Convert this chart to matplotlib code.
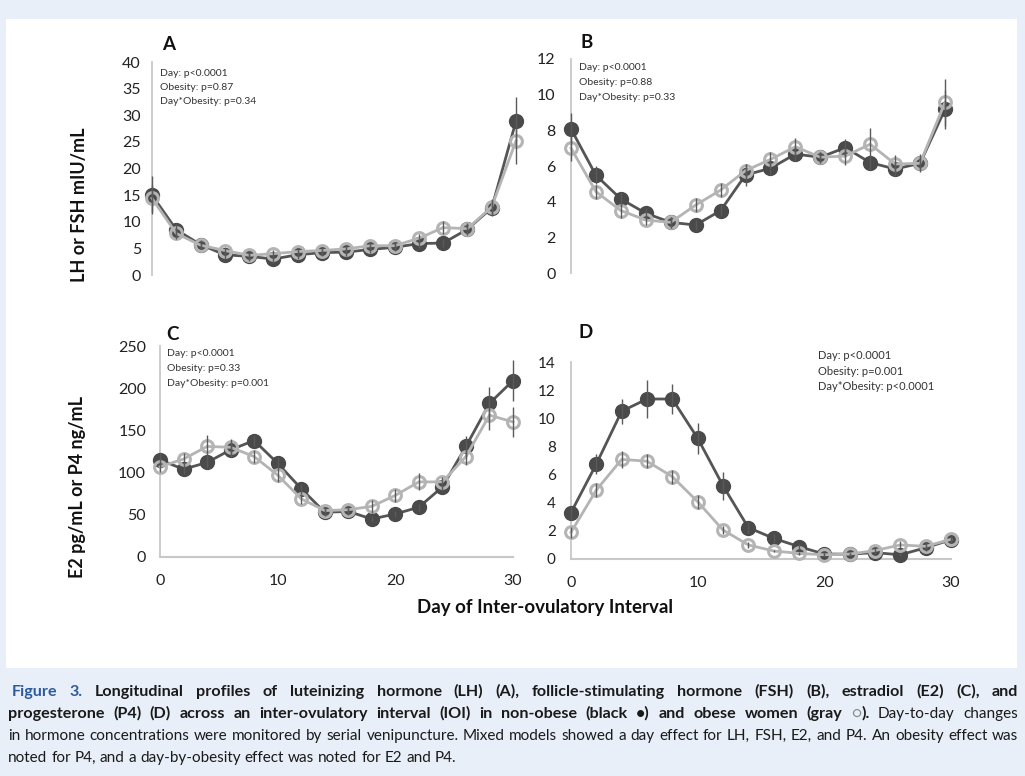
import matplotlib
matplotlib.use("Agg")
import matplotlib.pyplot as plt
from matplotlib.patches import Rectangle

W, H = 1025, 776
FONT = ["Lato", "DejaVu Sans"]
plt.rcParams["font.family"] = FONT

# ---------------------------------------------------------------------------
# Data
# ---------------------------------------------------------------------------
days = list(range(0, 31, 2))

lh_lean = [15.0, 8.5, 5.7, 3.8, 3.5, 3.0, 3.8, 4.2, 4.3, 4.8, 5.2, 5.9, 6.0, 8.6, 12.6, 28.9]
lh_lean_err = [3.5, 1.2, 0.8, 0.8, 0.8, 0.8, 0.8, 0.7, 0.7, 0.7, 0.7, 0.8, 0.8, 1.0, 1.5, 4.6]
lh_obese = [14.4, 7.8, 5.6, 4.6, 3.7, 4.0, 4.4, 4.6, 4.9, 5.5, 5.5, 6.9, 8.9, 8.7, 12.8, 25.2]
lh_obese_err = [2.5, 1.0, 0.7, 0.7, 0.7, 0.7, 0.7, 0.7, 0.7, 0.7, 0.7, 0.8, 1.2, 1.0, 1.5, 4.4]

fsh_lean = [8.08, 5.48, 4.15, 3.35, 2.84, 2.69, 3.5, 5.5, 5.87, 6.67, 6.49, 7.03, 6.19, 5.83, 6.15, 9.18]
fsh_lean_err = [0.9, 0.5, 0.4, 0.3, 0.3, 0.3, 0.3, 0.6, 0.4, 0.4, 0.3, 0.5, 0.4, 0.4, 0.4, 1.1]
fsh_obese = [7.0, 4.56, 3.5, 2.97, 2.84, 3.81, 4.65, 5.74, 6.37, 7.08, 6.49, 6.56, 7.22, 6.11, 6.15, 9.57]
fsh_obese_err = [0.7, 0.4, 0.4, 0.3, 0.3, 0.4, 0.4, 0.4, 0.4, 0.5, 0.3, 0.5, 0.9, 0.5, 0.5, 1.3]

e2_lean = [115, 104, 112, 127, 138, 111, 81, 53, 54, 45, 51, 59, 83, 131, 182, 209]
e2_lean_err = [8, 6, 7, 8, 6, 7, 6, 4, 4, 4, 4, 4, 5, 12, 20, 24]
e2_obese = [107, 116, 131, 130, 119, 97, 69, 55, 56, 60, 73, 89, 89, 119, 168, 160]
e2_obese_err = [6, 7, 14, 10, 8, 8, 6, 4, 4, 8, 8, 10, 6, 10, 18, 18]

p4_lean = [3.3, 6.75, 10.5, 11.37, 11.37, 8.58, 5.21, 2.23, 1.47, 0.88, 0.35, 0.35, 0.45, 0.3, 0.8, 1.37]
p4_lean_err = [0.5, 0.7, 0.9, 1.35, 1.1, 1.1, 1.0, 0.4, 0.3, 0.2, 0.1, 0.1, 0.1, 0.1, 0.1, 0.2]
p4_obese = [1.9, 4.9, 7.08, 6.95, 5.85, 4.07, 2.06, 1.0, 0.57, 0.4, 0.3, 0.35, 0.6, 1.0, 0.9, 1.4]
p4_obese_err = [0.4, 0.5, 0.6, 0.5, 0.5, 0.5, 0.3, 0.2, 0.1, 0.1, 0.1, 0.1, 0.2, 0.3, 0.3, 0.2]

stats_a = ["Day: p<0.0001", "Obesity: p=0.87", "Day*Obesity: p=0.34"]
stats_b = ["Day: p<0.0001", "Obesity: p=0.88", "Day*Obesity: p=0.33"]
stats_c = ["Day: p<0.0001", "Obesity: p=0.33", "Day*Obesity: p=0.001"]
stats_d = ["Day: p<0.0001", "Obesity: p=0.001", "Day*Obesity: p<0.0001"]

# ---------------------------------------------------------------------------
# Style
# ---------------------------------------------------------------------------
OUTER_BG = "#e8eff8"
DARK = "#4a4a4a"
DARK_LINE = "#555555"
LIGHT = "#b4b4b4"
ERR = "#5a5a5a"
AXIS = "#c8c8c8"
TXT = "#222222"
BLUE = "#2d5b9c"


def fx(px):
    return px / W


def fy(py):
    return 1 - py / H


fig = plt.figure(figsize=(W / 100, H / 100), dpi=100)
fig.patch.set_facecolor(OUTER_BG)
fig.add_artist(Rectangle((fx(6), fy(668)), (1017 - 6) / W, (668 - 19) / H,
                         transform=fig.transFigure, facecolor="white",
                         edgecolor="none", zorder=0))


def panel(box, lean, lean_err, obese, obese_err, ymax, ystep, show_x,
          ytick_size, ypad):
    left, top, right, bottom = box
    ax = fig.add_axes([fx(left), fy(bottom), (right - left) / W, (bottom - top) / H])
    ax.patch.set_alpha(0)
    ax.set_xlim(0, 30)
    ax.set_ylim(0, ymax)

    ax.plot(days, lean, "-o", color=DARK_LINE, mfc=DARK, mec=DARK, ms=10,
            lw=2, zorder=3, clip_on=False)
    ax.plot(days, obese, "-o", color=LIGHT, mfc="none", mec=LIGHT, ms=8.5,
            mew=2.2, lw=2, zorder=4, clip_on=False)
    for vals, errs in ((lean, lean_err), (obese, obese_err)):
        cont = ax.errorbar(days, vals, yerr=errs, fmt="none", ecolor=ERR,
                           elinewidth=1, capsize=0, zorder=5)
        for coll in cont.lines[2]:
            coll.set_clip_on(False)

    for side in ("top", "right"):
        ax.spines[side].set_visible(False)
    ax.spines["left"].set_color(AXIS)
    ax.spines["left"].set_linewidth(1.3)
    ax.set_yticks(range(0, ymax + 1, ystep))
    ax.tick_params(axis="y", length=0, pad=ypad, labelsize=ytick_size,
                   labelcolor=TXT)
    if show_x:
        ax.spines["bottom"].set_color(AXIS)
        ax.spines["bottom"].set_linewidth(1.5)
        ax.set_xticks([0, 10, 20, 30])
        ax.tick_params(axis="x", length=0, pad=12, labelsize=11.5, labelcolor=TXT)
    else:
        ax.spines["bottom"].set_visible(False)
        ax.set_xticks([])
    return ax


panel((152, 62, 516, 275), lh_lean, lh_lean_err, lh_obese, lh_obese_err,
      40, 5, False, 11.5, 8)
panel((571, 59, 945, 273), fsh_lean, fsh_lean_err, fsh_obese, fsh_obese_err,
      12, 2, False, 11.5, 11)
panel((160, 346, 513, 557), e2_lean, e2_lean_err, e2_obese, e2_obese_err,
      250, 50, True, 11.5, 10)
panel((571, 362, 951, 559), p4_lean, p4_lean_err, p4_obese, p4_obese_err,
      14, 2, True, 11, 11)

# panel letters
for letter, x, y in (("A", 162, 44), ("B", 580, 43), ("C", 166, 334), ("D", 579, 333)):
    fig.text(fx(x), fy(y), letter, fontsize=13.5, fontweight="bold",
             color="#111111", ha="left", va="center")

# statistics notes
for lines, x, y0, size, step in ((stats_a, 160, 73, 7.5, 14.5),
                                 (stats_b, 579, 68, 7.5, 14.5),
                                 (stats_c, 167, 354, 7.5, 14.5),
                                 (stats_d, 818, 356, 8, 15.5)):
    for i, s in enumerate(lines):
        fig.text(fx(x), fy(y0 + i * step), s, fontsize=size, color="#333333",
                 ha="left", va="center")

# axis titles
fig.text(fx(80), fy(205), "LH or FSH mIU/mL", rotation=90, fontsize=13,
         fontweight="bold", color="#111111", ha="center", va="center")
fig.text(fx(78), fy(487), "E2 pg/mL or P4 ng/mL", rotation=90, fontsize=13,
         fontweight="bold", color="#111111", ha="center", va="center")
fig.text(fx(545), fy(607), "Day of Inter-ovulatory Interval", fontsize=13.5,
         fontweight="bold", color="#111111", ha="center", va="center")

# ---------------------------------------------------------------------------
# Caption (justified, mixed styles)
# ---------------------------------------------------------------------------
CAP_SIZE = 11
STYLES = {
    "blue": dict(fontweight="bold", color=BLUE, fontsize=CAP_SIZE + 0.6),
    "b": dict(fontweight="bold", color="#1a1a1a", fontsize=CAP_SIZE + 0.6),
    "r": dict(fontweight="normal", color="#1a1a1a", fontsize=CAP_SIZE),
    "g": dict(fontweight="normal", color="#888888", fontsize=CAP_SIZE),
}

caption = [
    (12, 696, True, [("Figure 3.", "blue"),
                     (" Longitudinal profiles of luteinizing hormone (LH) (A), follicle-stimulating "
                      "hormone (FSH) (B), estradiol (E2) (C), and", "b")]),
    (8, 718, True, [("progesterone (P4) (D) across an inter-ovulatory interval (IOI) in non-obese "
                     "(black \u2022) and obese women (gray ", "b"), ("\u25cb", "g"), (").", "b"),
                    (" Day-to-day changes", "r")]),
    (8, 740, True, [("in hormone concentrations were monitored by serial venipuncture. Mixed models "
                     "showed a day effect for LH, FSH, E2, and P4. An obesity effect was", "r")]),
    (8, 762, False, [("noted for P4, and a day-by-obesity effect was noted for E2 and P4.", "r")]),
]

renderer = fig.canvas.get_renderer()


def text_width(s, style):
    t = fig.text(0, 0, s, **STYLES[style])
    w = t.get_window_extent(renderer).width
    t.remove()
    return w


space_w = text_width("x x", "r") - text_width("xx", "r")

for x0, base, justify, segments in caption:
    words = [[]]
    for text, style in segments:
        for i, part in enumerate(text.split(" ")):
            if i > 0:
                words.append([])
            if part:
                words[-1].append((part, style))
    words = [w for w in words if w]
    widths = [sum(text_width(s, st) for s, st in w) for w in words]
    gap = (1018 - x0 - sum(widths)) / (len(words) - 1) if justify else space_w
    x = x0
    for w, ww in zip(words, widths):
        xx = x
        for s, st in w:
            fig.text(fx(xx), fy(base), s, ha="left", va="baseline", **STYLES[st])
            xx += text_width(s, st)
        x += ww + gap

fig.savefig("out.png", dpi=100, facecolor=OUTER_BG)
